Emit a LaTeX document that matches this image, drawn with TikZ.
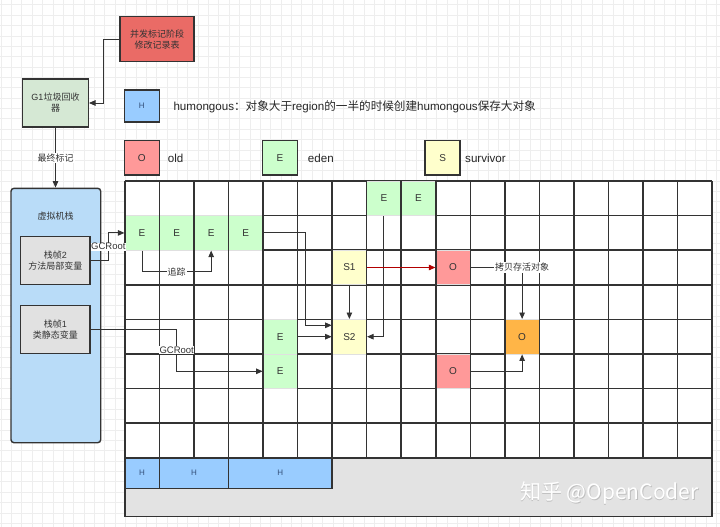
\documentclass[tikz,border=0pt]{standalone}
\usepackage{fontspec}
\setmainfont{Liberation Sans}
\newfontfamily\cjk{Noto Sans CJK SC}
\usetikzlibrary{arrows.meta}
\definecolor{ink}{HTML}{333333}
\definecolor{bggrid}{HTML}{EEEEEE}
\definecolor{cE}{HTML}{CCFFCC}
\definecolor{cO}{HTML}{FF9999}
\definecolor{cOO}{HTML}{FFB547}
\definecolor{cS}{HTML}{FFFFCC}
\definecolor{cH}{HTML}{99CCFF}
\definecolor{cRec}{HTML}{EA6B66}
\definecolor{cG1}{HTML}{D5E8D4}
\definecolor{cVM}{HTML}{B9DCF8}
\definecolor{cFr}{HTML}{E1E1E1}
\definecolor{cGray}{HTML}{E3E3E3}
\definecolor{cRed}{HTML}{B20000}
\definecolor{cHtxt}{HTML}{34507A}
\newcommand\gx[1]{124.8+34.55*(#1+0.5)}
\newcommand\gy[1]{181+34.6*(#1+0.5)}
\begin{document}
\begin{tikzpicture}[x=1pt,y=-1pt,
  gridl/.style={draw=ink, line width=1.6pt},
  cell/.style={minimum width=34.55pt, minimum height=34.6pt, inner sep=0pt, draw=black!12, line width=0.8pt,
    font=\fontsize{10}{10}\selectfont, text=ink},
  legbox/.style={draw=ink, line width=1.5pt, minimum width=35pt, minimum height=34.3pt, inner sep=0pt,
    font=\fontsize{10}{10}\selectfont, text=ink},
  legtxt/.style={anchor=west, inner sep=0pt, font=\fontsize{11.6}{12}\selectfont, text=black!85},
  box/.style={draw=ink, line width=1.4pt, inner sep=0pt, align=center, text=ink,
    font=\cjk\fontsize{9}{11}\selectfont},
  hbox/.style={draw=ink, line width=1.5pt, fill=cH, inner sep=0pt, minimum height=30.5pt,
    font=\fontsize{8}{8}\selectfont, text=cHtxt},
  conn/.style={draw=ink, line width=0.9pt, -{Triangle[length=6.5pt,width=5.5pt]}},
  lbl/.style={fill=white, inner sep=1pt, text=ink, font=\cjk\fontsize{9}{10}\selectfont},
  lbllat/.style={fill=white, inner sep=0.6pt, text=ink, font=\fontsize{9.5}{10}\selectfont}
]
\useasboundingbox (0,0) rectangle (720,527);
\fill[white] (0,0) rectangle (720,527);
% faint background grid
\foreach \i in {0,...,70} {
  \draw[bggrid, line width=0.6pt] ({1+10.37*\i},0) -- ({1+10.37*\i},527);
}
\foreach \i in {0,...,51} {
  \draw[bggrid, line width=0.6pt] (0,{4.7+10.37*\i}) -- (720,{4.7+10.37*\i});
}

% ---------- left components ----------
\node[box, fill=cRec, minimum width=74pt, minimum height=45pt] (rec) at (157,39.2) {并发标记阶段\\修改记录表};
\node[box, fill=cG1, minimum width=65.6pt, minimum height=48pt] (g1) at (55.5,103) {{\fontspec{Liberation Sans}G1}垃圾回收\\器};
\node[box, fill=cVM, rounded corners=3pt, minimum width=89.7pt, minimum height=254.4pt] (vm) at (55.85,315.5) {};
\node[inner sep=0pt, text=ink, font=\cjk\fontsize{9}{10}\selectfont] (vmt) at (55.7,216) {虚拟机栈};
\node[box, fill=cFr, minimum width=69.3pt, minimum height=47.6pt] (f2) at (55.35,260.5) {栈帧{\fontspec{Liberation Sans}2}\\方法局部变量};
\node[box, fill=cFr, minimum width=69.3pt, minimum height=47.6pt] (f1) at (55.35,329.5) {栈帧{\fontspec{Liberation Sans}1}\\类静态变量};

% ---------- legend ----------
\node[legbox, fill=cH, minimum height=31.7pt, font=\fontsize{8}{8}\selectfont, text=cHtxt] (lh) at (141.8,105.9) {H};
\node[legtxt] (lht) at (173.3,106.5) {humongous{\cjk ：对象大于}region{\cjk 的一半的时候创建}humongous{\cjk 保存大对象}};
\node[legbox, fill=cO] (lo) at (141.8,157.8) {O};
\node[legtxt] (lot) at (167.7,158.5) {old};
\node[legbox, fill=cE] (le) at (280,157.8) {E};
\node[legtxt] (let) at (307.7,158.5) {eden};
\node[legbox, fill=cS] (ls) at (442.7,157.8) {S};
\node[legtxt] (lst) at (465,158.5) {survivor};

% ---------- region grid ----------
\fill[white] (124.8,181) rectangle (712.15,457.8);
\foreach \r in {0,...,8} {
  \draw[gridl] (124.8,{181+34.6*\r}) -- (712.15,{181+34.6*\r});
}
\node[cell, fill=cE] (e07) at ({\gx{7}},{\gy{0}}) {E};
\node[cell, fill=cE] (e08) at ({\gx{8}},{\gy{0}}) {E};
\node[cell, fill=cE] (e10) at ({\gx{0}},{\gy{1}}) {E};
\node[cell, fill=cE] (e11) at ({\gx{1}},{\gy{1}}) {E};
\node[cell, fill=cE] (e12) at ({\gx{2}},{\gy{1}}) {E};
\node[cell, fill=cE] (e13) at ({\gx{3}},{\gy{1}}) {E};
\node[cell, fill=cS] (s1) at ({\gx{6}},{\gy{2}}) {S1};
\node[cell, fill=cO] (o29) at ({\gx{9}},{\gy{2}}) {O};
\node[cell, fill=cE] (e44) at ({\gx{4}},{\gy{4}}) {E};
\node[cell, fill=cS] (s2) at ({\gx{6}},{\gy{4}}) {S2};
\node[cell, fill=cOO] (oo) at ({\gx{11}},{\gy{4}}) {O};
\node[cell, fill=cE] (e54) at ({\gx{4}},{\gy{5}}) {E};
\node[cell, fill=cO] (o59) at ({\gx{9}},{\gy{5}}) {O};
\foreach \c in {0,...,17} {
  \draw[gridl] ({124.8+34.55*\c},181) -- ({124.8+34.55*\c},457.8);
}
\draw[gridl, line width=2.2pt] ({124.8+34.55*11},181) -- ({124.8+34.55*11},457.8);

% humongous area
\draw[gridl, fill=cGray] (124.8,457.8) rectangle (712.15,516.5);
\node[hbox, minimum width=34.55pt] (h1) at (142.08,473.05) {H};
\node[hbox, minimum width=69.1pt] (h2) at (193.9,473.05) {H};
\node[hbox, minimum width=103.65pt] (h3) at (280.28,473.05) {H};

% watermark
\node[inner sep=0pt, font=\cjk\fontsize{21}{21}\selectfont, text=black!25] (wms) at (610.1,494) {知乎 @OpenCoder};
\node[inner sep=0pt, font=\cjk\fontsize{21}{21}\selectfont, text=white] (wm) at (609.4,493.2) {知乎 @OpenCoder};

% ---------- connectors ----------
\draw[conn] (rec.west) -- ++(-15.7,0) |- (g1.east);
\draw[conn] (g1.south) -- node[lbl]{最终标记} (g1.south |- vm.north);
\draw[conn] (f2.east) -- ++(17.7,0) |- node[pos=0.25, lbllat]{GCRoot} (e10.west);
\draw[conn] (e10.south) -- ++(0,21) -| node[pos=0.25, lbl]{追踪} (e12.south);
\draw[conn] (f1.east) -- ++(86,0) |- node[pos=0.25, lbllat]{GCRoot} (e54.west);
\draw[conn] (e13.east) -- ++(42.5,0) |- ([yshift=11.4pt]s2.west);
\draw[conn] (e44.east) -- (s2.west);
\draw[conn] (e07.south) |- (s2.east);
\draw[conn] (s1.south) -- (s2.north);
\draw[conn, draw=cRed, -{Triangle[length=6.5pt,width=5.5pt,fill=cRed]}] (s1.east) -- (o29.west);
\draw[conn] (o29.east) -| node[pos=0.5, lbl]{拷贝存活对象} (oo.north);
\draw[conn] (o59.east) -| (oo.south);
\end{tikzpicture}
\end{document}
